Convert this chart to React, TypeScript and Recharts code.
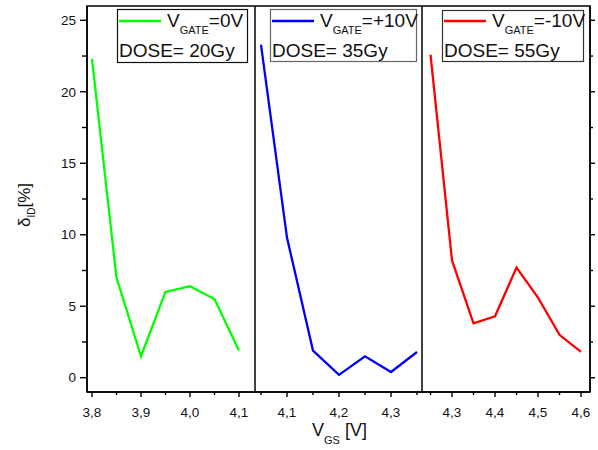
import { LineChart, Line, XAxis, YAxis } from 'recharts';

// panel 1: V_GATE = 0V, 20Gy
const greenX = [3.8, 3.85, 3.9, 3.95, 4.0, 4.05, 4.1];
const greenY = [22.3, 7.0, 1.5, 6.0, 6.4, 5.5, 1.9];
// panel 2: V_GATE = +10V, 35Gy
const blueX = [4.05, 4.1, 4.15, 4.2, 4.25, 4.3, 4.35];
const blueY = [23.3, 9.8, 1.9, 0.2, 1.5, 0.4, 1.8];
// panel 3: V_GATE = -10V, 55Gy
const redX = [4.25, 4.3, 4.35, 4.4, 4.45, 4.5, 4.55, 4.6];
const redY = [22.6, 8.2, 3.8, 4.3, 7.7, 5.6, 3.0, 1.8];

const ticks1 = [3.8, 3.85, 3.9, 3.95, 4.0, 4.05, 4.1];
const ticks2 = [4.05, 4.1, 4.15, 4.2, 4.25, 4.3, 4.35];
const ticks3 = [4.25, 4.3, 4.35, 4.4, 4.45, 4.5, 4.55, 4.6];
const yTicks = [0, 2.5, 5, 7.5, 10, 12.5, 15, 17.5, 20, 22.5, 25];

const yDomain: [number, number] = [-1, 26];
const font = '"Liberation Sans", Arial, sans-serif';
const ink = '#000';

const toRows = (xs: number[], ys: number[]) => xs.map((x, i) => ({ x, y: ys[i] }));

const isMajor = (v: number, step: number) => Math.round(v * 100) % step === 0;

const XTick = ({ x, y, payload }: any) => {
    const v = payload.value as number;
    const major = isMajor(v, 10);
    return (
        <g>
            <line x1={x} x2={x} y1={y} y2={y + (major ? 5 : 3)} stroke={ink} strokeWidth={1.4} />
            {major && (
                <text x={x} y={y + 25} textAnchor="middle" fontSize={13.5} fontFamily={font} fill="#111">
                    {v.toFixed(1).replace('.', ',')}
                </text>
            )}
        </g>
    );
};

const YTickLeft = ({ x, y, payload }: any) => {
    const v = payload.value as number;
    const major = isMajor(v, 500);
    return (
        <g>
            <line x1={x - (major ? 7 : 5)} x2={x} y1={y} y2={y} stroke={ink} strokeWidth={1.4} />
            {major && (
                <text x={x - 11} y={y} dy="0.35em" textAnchor="end" fontSize={13.5} fontFamily={font} fill="#111">
                    {v}
                </text>
            )}
        </g>
    );
};

const YTickRight = ({ x, y, payload }: any) => {
    const major = isMajor(payload.value, 500);
    return <line x1={x} x2={x + (major ? 5 : 3)} y1={y} y2={y} stroke={ink} strokeWidth={1.4} />;
};

type PanelProps = {
    left: number;
    width: number;
    data: { x: number; y: number }[];
    domain: [number, number];
    ticks: number[];
    color: string;
    first?: boolean;
    last?: boolean;
};

function Panel({ left, width, data, domain, ticks, color, first, last }: PanelProps) {
    return (
        <div style={{ position: 'absolute', left, top: 0 }}>
            <LineChart width={width} height={450} data={data} margin={{ top: 6, right: first ? 1 : 0, bottom: 0, left: 0 }}>
                <XAxis
                    dataKey="x"
                    type="number"
                    domain={domain}
                    allowDataOverflow
                    ticks={ticks}
                    interval={0}
                    height={58}
                    tickSize={0}
                    tickMargin={0}
                    tick={<XTick />}
                    stroke={ink}
                    strokeWidth={1.5}
                />
                <YAxis
                    yAxisId="v"
                    type="number"
                    orientation={last ? 'right' : 'left'}
                    domain={yDomain}
                    allowDataOverflow
                    ticks={yTicks}
                    interval={0}
                    width={first ? 87 : 8}
                    hide={!first && !last}
                    tickSize={0}
                    tickMargin={0}
                    tick={first ? <YTickLeft /> : <YTickRight />}
                    stroke={ink}
                    strokeWidth={1.5}
                />
                <Line
                    yAxisId="v"
                    dataKey="y"
                    stroke={color}
                    strokeWidth={2.3}
                    dot={false}
                    isAnimationActive={false}
                />
            </LineChart>
        </div>
    );
}

const legends = [
    { x: 117, y: 9, w: 130, h: 53, color: '#00ff00', border: '#111', gate: '=0V', dose: 'DOSE= 20Gy' },
    { x: 270, y: 9, w: 146, h: 52, color: '#0000ff', border: '#666', gate: '=+10V', dose: 'DOSE= 35Gy' },
    { x: 442, y: 10, w: 141, h: 51, color: '#ff0000', border: '#333', gate: '=-10V', dose: 'DOSE= 55Gy' },
];

export default function App() {
    return (
        <div style={{ position: 'absolute', left: 0, top: 0, width: 598, height: 450, background: '#fff', fontFamily: font }}>
            <Panel left={0} width={256} data={toRows(greenX, greenY)} domain={[3.7898, 4.1327]} ticks={ticks1} color="#00ff00" first />
            <Panel left={255} width={167} data={toRows(blueX, blueY)} domain={[4.0385, 4.3596]} ticks={ticks2} color="#0000ff" />
            <Panel left={422} width={176} data={toRows(redX, redY)} domain={[4.2302, 4.6209]} ticks={ticks3} color="#ff0000" last />

            <svg width={598} height={450} style={{ position: 'absolute', left: 0, top: 0, pointerEvents: 'none' }}>
                {/* plot frame and panel dividers */}
                <g stroke={ink} strokeWidth={1.5} fill="none">
                    <rect x={87} y={6} width={503} height={386} />
                    <line x1={255} x2={255} y1={6} y2={392} />
                    <line x1={422} x2={422} y1={6} y2={392} />
                </g>

                {legends.map((l) => (
                    <g key={l.dose}>
                        <rect x={l.x + 0.5} y={l.y + 0.5} width={l.w} height={l.h} fill="#fff" stroke={l.border} strokeWidth={1.2} />
                        <line x1={l.x + 2} x2={l.x + 44} y1={21} y2={21} stroke={l.color} strokeWidth={2.4} />
                        <text x={l.x + 50} y={27} fontSize={19} fontFamily={font} fill="#111">
                            V<tspan dy={7} fontSize={11}>GATE</tspan>
                            <tspan dy={-7}>{l.gate}</tspan>
                        </text>
                        <text x={l.x + 2} y={57} fontSize={19} fontFamily={font} fill="#111">
                            {l.dose}
                        </text>
                    </g>
                ))}

                <text transform="translate(30,227) rotate(-90)" fontSize={17} fontFamily={font} fill="#111">
                    δ<tspan dy={5} fontSize={10}>ID</tspan>
                    <tspan dy={-5}>[%]</tspan>
                </text>

                <text x={312} y={436} fontSize={18} fontFamily={font} fill="#111">
                    V<tspan dy={8} fontSize={11}>GS</tspan>
                    <tspan dy={-8}> [V]</tspan>
                </text>
            </svg>
        </div>
    );
}
